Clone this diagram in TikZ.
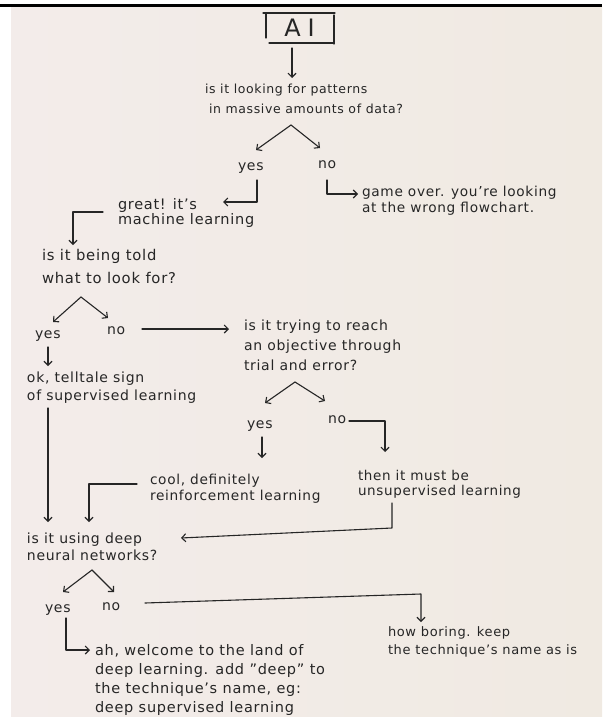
\documentclass[tikz,border=0pt]{standalone}
\usepackage{fontspec}
\setmainfont{DejaVu Sans}[LetterSpace=5]
\usetikzlibrary{arrows.meta,calc}
\definecolor{paperL}{HTML}{F3ECEA}
\definecolor{paperR}{HTML}{F0EAE2}
\definecolor{ink}{HTML}{262626}
\tikzset{
  inkline/.style={draw=ink, line width=1.1pt, line cap=round, line join=round},
  arr/.style={inkline, -{Straight Barb[length=4pt,width=8pt,line width=1.1pt]}},
  block/.style={inner sep=0pt, outer sep=0pt, text=ink, align=left, anchor=north west},
  word/.style={inner sep=0pt, outer sep=0pt, text=ink, anchor=base west, font=\fs{14}{14}},
}
\newcommand{\fs}[2]{\fontsize{#1}{#2}\selectfont}
\begin{document}
\begin{tikzpicture}[x=1pt,y=-1pt]
\useasboundingbox (0,0) rectangle (602,717);
% paper, with the dark rule along the top
\fill[white] (0,0) rectangle (602,717);
\shade[left color=paperL, right color=paperR] (11,7) rectangle (602,717);
\fill[black] (0,4) rectangle (602,7);

% title box
\node[inner sep=0pt, outer sep=0pt, minimum width=69pt, minimum height=30pt, text=ink,
      font=\fs{24}{24}] (ai) at (299.5,28) {A\hspace{7pt}I};
\draw[inkline] ($(ai.north west)+(-2,0)$) -- ($(ai.north east)+(1,0)$);
\draw[inkline] ($(ai.north west)+(1,0)$) -- ($(ai.south west)+(1,-5)$);
\draw[inkline] ($(ai.south west)+(4,0)$) -- ($(ai.south east)+(-1,0)$);
\draw[inkline] ($(ai.north east)+(0,2)$) -- ($(ai.south east)+(0,1)$);

% texts
\node[block, font=\fs{12.5}{20}] (q1) at (205,84.5)
  {is it looking for patterns\\\hspace*{4pt}in massive amounts of data?};
\node[word] (yes1) at (238,170) {yes};
\node[word] (no1) at (318,168) {no};
\node[block, font=\fs{14.5}{15}] (great) at (118,198.4) {great! it's\\machine learning};
\node[block, font=\fs{13.7}{16}] (game) at (362,185.6)
  {game over. you're looking\\at the wrong flowchart.};
\node[block, font=\fs{14.8}{23}] (told) at (42,248.8) {is it being told\\what to look for?};
\node[word] (yes2) at (35,338) {yes};
\node[word] (no2) at (107,334) {no};
\node[block, font=\fs{14}{20}] (trying) at (244,319.4)
  {is it trying to reach\\an objective through\\trial and error?};
\node[block, font=\fs{14}{18}] (ok) at (27,371.4) {ok, telltale sign\\of supervised learning};
\node[word] (yes3) at (247,428) {yes};
\node[word] (no3) at (328,423) {no};
\node[block, font=\fs{13.7}{16}] (cool) at (150,473.6) {cool, definitely\\reinforcement learning};
\node[block, font=\fs{13.5}{15}] (then) at (358,470.7) {then it must be\\unsupervised learning};
\node[block, font=\fs{14}{17}] (nn) at (27,532.4) {is it using deep\\neural networks?};
\node[word] (yes4) at (45,612) {yes};
\node[word] (no4) at (102,610) {no};
\node[block, font=\fs{14.5}{19}] (ah) at (95,644.4)
  {ah, welcome to the land of\\deep learning. add "deep" to\\the technique's name, eg:\\deep supervised learning};
\node[block, font=\fs{13}{18}] (boring) at (388,627) {how boring. keep\\the technique's name as is};

% forks under each question
\coordinate (fork1) at ($(q1.north west)+(86,40.5)$);
\coordinate (fork2) at ($(told.north west)+(39,48.2)$);
\coordinate (fork3) at ($(trying.north west)+(51,62.6)$);
\coordinate (fork4) at ($(nn.north west)+(65,37.6)$);
\draw[arr] (fork1) -- ($(yes1.base west)+(18,-20)$);
\draw[arr] (fork1) -- ($(no1.base west)+(2,-20)$);
\draw[arr] (fork2) -- ($(yes2.base west)+(18,-16)$);
\draw[arr] (fork2) -- ($(no2.base west)+(1,-16)$);
\draw[arr] (fork3) -- ($(yes3.base west)+(18,-25)$);
\draw[arr] (fork3) -- ($(no3.base west)+(-3,-22)$);
\draw[arr] (fork4) -- ($(yes4.base west)+(18,-20)$);
\draw[arr] (fork4) -- ($(no4.base west)+(12,-18)$);

% connectors
\draw[arr] ($(ai.south)+(-7.5,5)$) -- ($(q1.north west)+(87,-6.5)$);
\draw[arr] ($(yes1.base west)+(19,10)$) |- ($(great.north west)+(105,3.6)$);
\draw[arr] ($(no1.base west)+(9,12)$) |- ($(game.north west)+(-4,8.4)$);
\draw[arr] ($(great.north west)+(-15,13.6)$) -| ($(told.north west)+(31,-3.8)$);
\draw[arr] ($(no2.base west)+(35,-5)$) -- ($(trying.north west)+(-15,9.6)$);
\draw[arr] ($(yes2.base west)+(13,9)$) -- ($(ok.north west)+(21,-5.4)$);
\draw[arr] ($(no3.base west)+(21,-2)$) -| ($(then.north west)+(27,-18.7)$);
\draw[arr] ($(yes3.base west)+(15,9)$) -- ($(cool.north west)+(112,-15.6)$);
\draw[arr] ($(cool.north west)+(-13,10.4)$) -| ($(nn.north west)+(62,-10.4)$);
\draw[arr] ($(ok.north west)+(21,36.6)$) -- ($(nn.north west)+(21,-10.4)$);
\draw[arr] ($(then.north west)+(34,32.3)$) -- ($(then.north west)+(34,57.3)$)
  -- ($(nn.north west)+(154,5.6)$);
\draw[arr] ($(no4.base west)+(43,-7)$) -- ($(boring.north west)+(33,-33)$)
  -- ($(boring.north west)+(33,-5)$);
\draw[arr] ($(yes4.base west)+(21,6)$) |- ($(ah.north west)+(-5,5.6)$);
\end{tikzpicture}
\end{document}
